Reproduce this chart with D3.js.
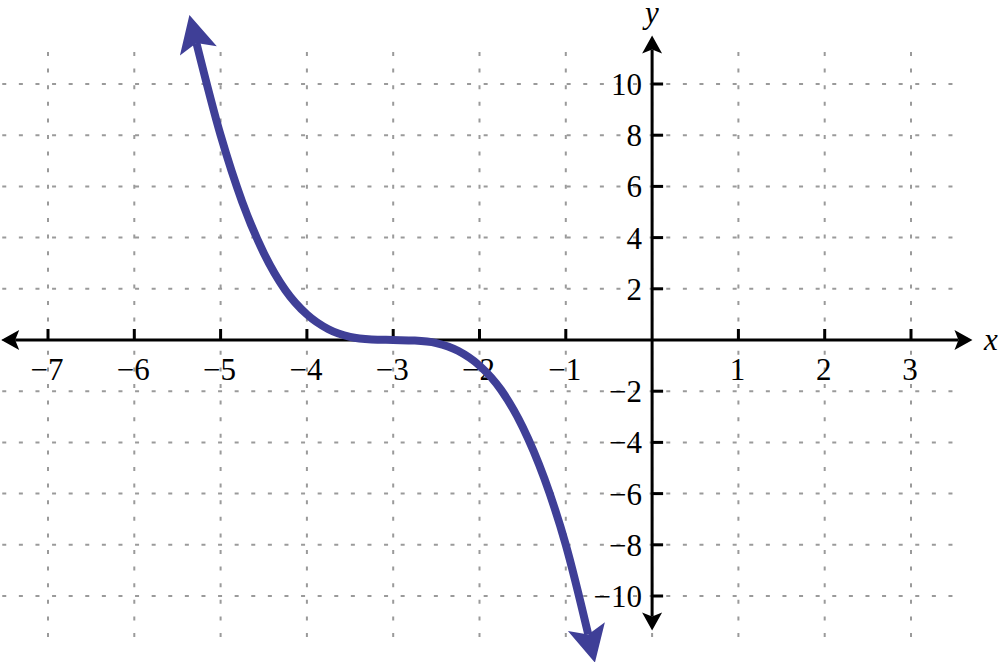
<!DOCTYPE html>
<html>
<head>
<meta charset="utf-8">
<script src="https://cdn.jsdelivr.net/npm/d3@7/dist/d3.min.js"></script>
<style>
  body { margin: 0; background: #fff; }
  .lbl { font-family: "Liberation Serif", "DejaVu Serif", serif; font-size: 31px; fill: #000; }
  .var { font-family: "Liberation Serif", "DejaVu Serif", serif; font-size: 31px; font-style: italic; fill: #000; }
</style>
</head>
<body>
<div class="chart"></div>
<script>
var svgWidth = 1000;
var svgHeight = 662;

// tick values
var xTicks = [-7, -6, -5, -4, -3, -2, -1, 1, 2, 3];
var yTicks = [-10, -8, -6, -4, -2, 2, 4, 6, 8, 10];
var xGrid = [-7, -6, -5, -4, -3, -2, -1, 0, 1, 2, 3];
var yGrid = [-10, -8, -6, -4, -2, 0, 2, 4, 6, 8, 10];

// curve points
var curveX = [-5.28, -5, -4.75, -4.5, -4.25, -4, -3.75, -3.5, -3.25, -3, -2.75, -2.5, -2.25, -2, -1.75, -1.5, -1.25, -1, -0.74];
var curveY = [11.6, 8, 5.4, 3.4, 1.95, 1, 0.42, 0.12, 0.02, 0, -0.02, -0.12, -0.42, -1, -1.95, -3.4, -5.4, -8, -11.5];

var svg = d3.select(".chart")
  .append("svg")
  .attr("width", svgWidth)
  .attr("height", svgHeight);

var x = d3.scaleLinear().domain([-7, 3]).range([48, 911]);
var y = d3.scaleLinear().domain([-10, 10]).range([596, 84]);

var defs = svg.append("defs");

// curve arrowhead (origin at the notch, tip sticks out forward)
defs.append("marker")
  .attr("id", "curveArrow")
  .attr("markerUnits", "userSpaceOnUse")
  .attr("viewBox", "-12 -20 44 40")
  .attr("markerWidth", 44)
  .attr("markerHeight", 40)
  .attr("refX", 0)
  .attr("refY", 0)
  .attr("orient", "auto-start-reverse")
  .append("path")
  .attr("d", "M29,0 L-8,-19 L0,0 L-8,19 Z")
  .attr("fill", "#3f3f97");

// axis arrowhead
defs.append("marker")
  .attr("id", "axisArrow")
  .attr("markerUnits", "userSpaceOnUse")
  .attr("viewBox", "-8 -12 28 24")
  .attr("markerWidth", 28)
  .attr("markerHeight", 24)
  .attr("refX", 0)
  .attr("refY", 0)
  .attr("orient", "auto-start-reverse")
  .append("path")
  .attr("d", "M14,0 L-4,-10 L0,0 L-4,10 Z")
  .attr("fill", "#000");

// dotted grid
var grid = svg.append("g")
  .attr("stroke", "#9a9a9a")
  .attr("stroke-width", 2)
  .attr("stroke-dasharray", "4,12.6");

grid.selectAll(".hg")
  .data(yGrid)
  .enter().append("line")
    .attr("x1", x(-7.53))
    .attr("x2", x(3.6))
    .attr("y1", function(d) { return y(d); })
    .attr("y2", function(d) { return y(d); });

grid.selectAll(".vg")
  .data(xGrid)
  .enter().append("line")
    .attr("x1", function(d) { return x(d); })
    .attr("x2", function(d) { return x(d); })
    .attr("y1", y(11.25))
    .attr("y2", y(-11.6));

// axes
var axes = svg.append("g").attr("stroke", "#000").attr("stroke-width", 3);

axes.append("line")
  .attr("x1", x(-7.38)).attr("x2", x(3.55))
  .attr("y1", y(0)).attr("y2", y(0))
  .attr("marker-start", "url(#axisArrow)")
  .attr("marker-end", "url(#axisArrow)");

axes.append("line")
  .attr("x1", x(0)).attr("x2", x(0))
  .attr("y1", y(11.35)).attr("y2", y(-10.8))
  .attr("marker-start", "url(#axisArrow)")
  .attr("marker-end", "url(#axisArrow)");

axes.selectAll(".xt")
  .data(xTicks)
  .enter().append("line")
    .attr("x1", function(d) { return x(d); })
    .attr("x2", function(d) { return x(d); })
    .attr("y1", y(0))
    .attr("y2", y(0) - 11);

axes.selectAll(".yt")
  .data(yTicks)
  .enter().append("line")
    .attr("x1", x(0))
    .attr("x2", x(0) + 11)
    .attr("y1", function(d) { return y(d); })
    .attr("y2", function(d) { return y(d); });

function fmt(d) {
  return d < 0 ? "\u2212" + Math.abs(d) : String(d);
}

svg.selectAll(".xl")
  .data(xTicks)
  .enter().append("text")
    .attr("class", "lbl")
    .attr("x", function(d) { return x(d) - 1; })
    .attr("y", y(0) + 40)
    .attr("text-anchor", "middle")
    .text(fmt);

svg.selectAll(".yl")
  .data(yTicks)
  .enter().append("text")
    .attr("class", "lbl")
    .attr("x", x(0) - 10)
    .attr("y", function(d) { return y(d) + 11; })
    .attr("text-anchor", "end")
    .text(fmt);

svg.append("text").attr("class", "var")
  .attr("x", 984).attr("y", 350).text("x");
svg.append("text").attr("class", "var")
  .attr("x", 645).attr("y", 23).text("y");

// the curve
var pts = curveX.map(function(d, i) { return [d, curveY[i]]; });

var line = d3.line()
  .x(function(d) { return x(d[0]); })
  .y(function(d) { return y(d[1]); })
  .curve(d3.curveMonotoneX);

svg.append("path")
  .datum(pts)
  .attr("d", line)
  .attr("fill", "none")
  .attr("stroke", "#3f3f97")
  .attr("stroke-width", 8)
  .attr("marker-start", "url(#curveArrow)")
  .attr("marker-end", "url(#curveArrow)");
</script>
</body>
</html>
